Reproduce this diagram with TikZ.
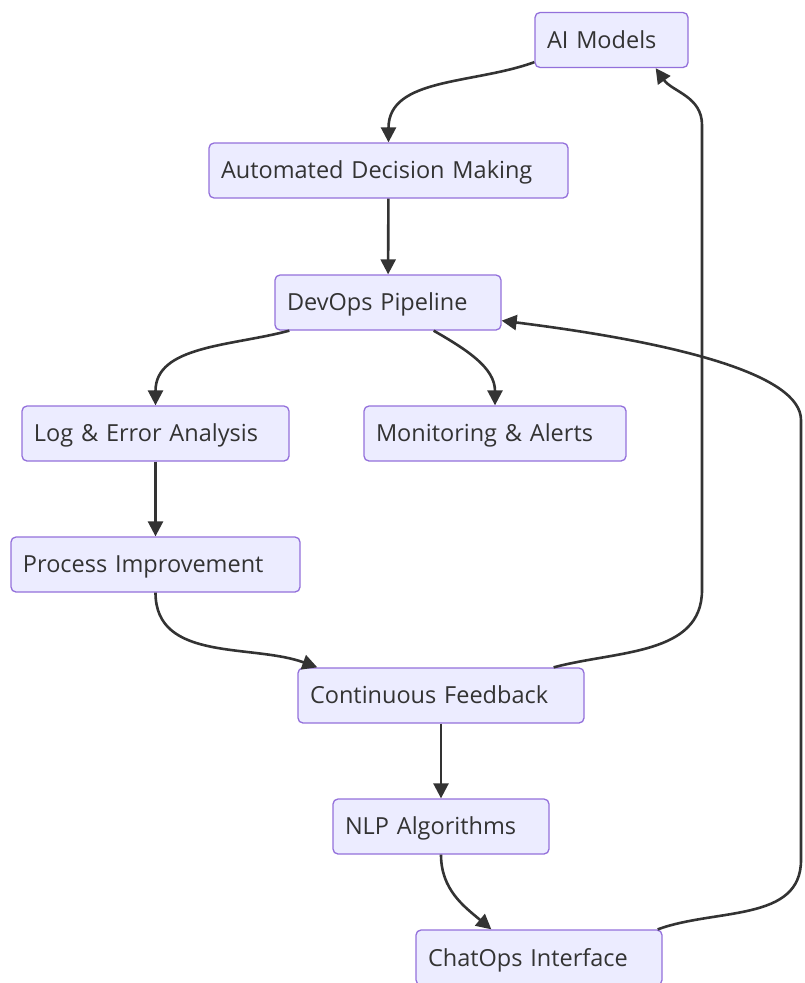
\documentclass[tikz,border=0pt]{standalone}
\usepackage{fontspec}
\setmainfont{Open Sans}
\usetikzlibrary{arrows.meta}
\definecolor{boxfill}{HTML}{ECECFF}
\definecolor{boxline}{HTML}{9370DB}
\definecolor{ink}{HTML}{333333}

\begin{document}
\begin{tikzpicture}[x=1pt, y=-1pt,
  box/.style = {draw=boxline, fill=boxfill, line width=1.3pt, rounded corners=5pt,
    text=ink, font=\fontsize{23.5}{27}\selectfont, minimum height=55pt, inner xsep=12pt,
    inner ysep=0pt, align=left, text depth=1pt},
  arr/.style = {draw=ink, line width=2.6pt, -{Triangle[length=15pt,width=15pt]}}]
  \useasboundingbox (0,0) rectangle (804,983);

  \node[box, text width=129pt] (ai) at (611.5,40) {AI Models};
  \node[box, text width=335pt] (adm) at (388.5,170.5) {Automated Decision Making};
  \node[box, text width=202pt] (devops) at (388,302.5) {DevOps Pipeline};
  \node[box, text width=243pt] (logs) at (155.5,433.5) {Log \& Error Analysis};
  \node[box, text width=238pt] (monitor) at (495,433.5) {Monitoring \& Alerts};
  \node[box, text width=265pt] (improve) at (155.5,564.5) {Process Improvement};
  \node[box, text width=262pt] (feedback) at (441,695.5) {Continuous Feedback};
  \node[box, text width=192pt] (nlp) at (441,826.5) {NLP Algorithms};
  \node[box, text width=222pt] (chatops) at (539,957.5) {ChatOps Interface};

  \coordinate (up1) at (702,590);
  \coordinate (up2) at (702,125);
  \coordinate (up3) at (801,860);
  \coordinate (up4) at (801,420);

  \draw[arr] ([yshift=6pt]ai.south west) to[out=200,in=90] (adm.north);
  \draw[arr] (adm) -- (devops);
  \draw[arr] ([xshift=15pt]devops.south west) to[out=195,in=90] (logs.north);
  \draw[arr] ([xshift=-68pt]devops.south east) to[out=-30,in=90] (monitor.north);
  \draw[arr] (logs) -- (improve);
  \draw[arr] (improve.south) to[out=-90,in=160] ([xshift=20pt]feedback.north west);
  \draw[arr] ([xshift=-31pt]feedback.north east) to[out=15,in=-90] (up1) -- (up2)
    to[out=90,in=-55] ([xshift=-33pt]ai.south east);
  \draw[arr] (feedback) -- (nlp);
  \draw[arr] (nlp.south) to[out=-90,in=140] ([xshift=76pt]chatops.north west);
  \draw[arr] ([xshift=-5pt]chatops.north east) to[out=20,in=-90] (up3) -- (up4)
    .. controls (801,375) and (680,343) .. ([yshift=10pt]devops.south east);
\end{tikzpicture}
\end{document}
